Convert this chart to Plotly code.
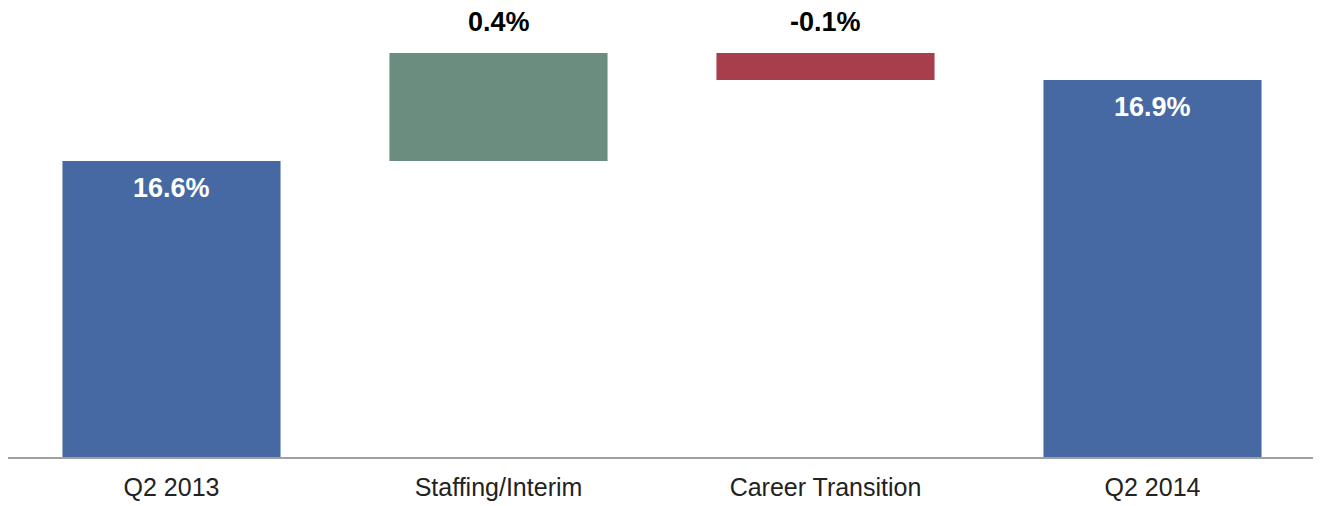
import plotly.graph_objects as go

categories = ["Q2 2013", "Staffing/Interim", "Career Transition", "Q2 2014"]
values = [16.6, 0.4, -0.1, 16.9]
measures = ["absolute", "relative", "relative", "total"]
labels = ["16.6%", "0.4%", "-0.1%", "16.9%"]

BLUE = "#4769A3"
GREEN = "#6B8D7F"
RED = "#A83E4B"
FONT = "Arial, Liberation Sans, sans-serif"

fig = go.Figure(go.Waterfall(
    x=categories,
    y=values,
    measure=measures,
    width=0.667,
    connector=dict(visible=False),
    increasing=dict(marker=dict(color=GREEN)),
    decreasing=dict(marker=dict(color=RED)),
    totals=dict(marker=dict(color=BLUE)),
    hoverinfo="skip",
))

# labels: inside the top of total bars, above the floating bars
running = 0
for cat, val, m, lab in zip(categories, values, measures, labels):
    if m in ("absolute", "total"):
        if m == "absolute":
            running = val
        fig.add_annotation(x=cat, y=running, text="<b>%s</b>" % lab, showarrow=False,
                           yshift=-27, font=dict(color="white", size=27, family=FONT))
    else:
        top = max(running, running + val)
        running += val
        fig.add_annotation(x=cat, y=top, text="<b>%s</b>" % lab, showarrow=False,
                           yshift=31, font=dict(color="black", size=27, family=FONT))

# page body has an 8px margin, so the figure is sized to fit inside the window
fig.update_layout(
    width=1313, height=498,
    margin=dict(l=0, r=5, t=0, b=49),
    paper_bgcolor="white", plot_bgcolor="white",
    showlegend=False,
    font=dict(family=FONT, color="#222222"),
)
fig.update_xaxes(showline=True, linecolor="#A0A0A0", linewidth=2, ticks="",
                 ticklabelstandoff=7,
                 tickfont=dict(size=25, color="#222222"), showgrid=False)
fig.update_yaxes(range=[15.504, 17.167], visible=False, showgrid=False)

fig.write_html("out.html")
